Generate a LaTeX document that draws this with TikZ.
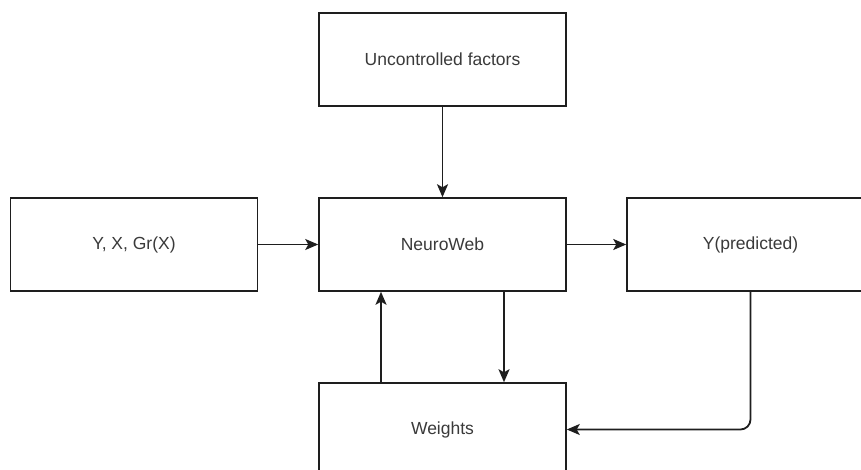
\documentclass[tikz,border=0pt]{standalone}
\usepackage{fontspec}
\setmainfont{Liberation Sans}
\usetikzlibrary{arrows.meta}
\definecolor{edge}{HTML}{1E1E1E}
\definecolor{txt}{HTML}{3A3A3A}
\begin{document}
\begin{tikzpicture}[x=1pt,y=-1pt,
  box/.style={draw=edge,line width=1.5pt,fill=white,minimum width=247pt,minimum height=93pt,inner sep=0pt,
    font=\fontsize{17.5}{20}\selectfont,text=txt},
  arr/.style={draw=edge,line width=1.8pt,-{Stealth[length=13pt,width=11pt,inset=3pt]}}]
\useasboundingbox (0,0) rectangle (861,470);
\clip (0,0) rectangle (861,470);
\node[box] (unc) at (442.5,59.5) {Uncontrolled factors};
\node[box] (inp) at (134,244.5) {Y, X, Gr(X)};
\node[box] (nw) at (442.5,244.5) {NeuroWeb};
\node[box] (pred) at (750.5,244.5) {Y(predicted)};
\node[box] (wts) at (442.5,429.5) {Weights};
\coordinate (dx) at (504,0);
\coordinate (ux) at (381,0);
\draw[arr] (unc.south) -- (nw.north);
\draw[arr] (inp.east) -- (nw.west);
\draw[arr] (nw.east) -- (pred.west);
\draw[arr] (nw.south -| dx) -- (wts.north -| dx);
\draw[arr] (wts.north -| ux) -- (nw.south -| ux);
\draw[arr,rounded corners=10pt] (pred.south) |- (wts.east);
\end{tikzpicture}
\end{document}
